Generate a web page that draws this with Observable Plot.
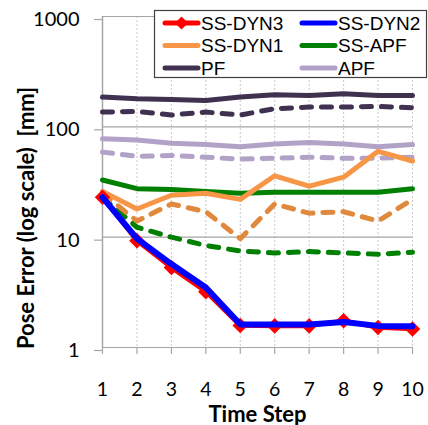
<!DOCTYPE html>
<html>
<head>
<meta charset="utf-8">
<script src="https://cdn.jsdelivr.net/npm/d3@7"></script>
<script src="https://cdn.jsdelivr.net/npm/@observablehq/plot@0.6"></script>
<style>
  html, body { margin: 0; padding: 0; background: #fff; }
  #chart { position: relative; width: 428px; height: 425px; }
</style>
</head>
<body>
<div id="chart"></div>
<script>
// ---- data ----
const steps = [1, 2, 3, 4, 5, 6, 7, 8, 9, 10];
const yTicks = [1, 10, 100, 1000];
const pf       = [186, 180, 177, 173, 186, 195, 192, 199, 192, 192];
const pfDash   = [136, 138, 128, 136, 128, 146, 151, 151, 153, 149];
const apf      = [78, 76, 71, 69, 66, 70, 72, 70, 66, 69];
const apfDash  = [59, 54, 55, 53, 51, 52, 53, 52, 52, 53];
const ssApf    = [33, 27.5, 27, 26, 25, 25.5, 25.5, 25.5, 25.5, 27.5];
const ssApfDash= [23, 12.3, 10, 8.4, 7.5, 7.2, 7.4, 7.2, 7.0, 7.3];
const dyn1     = [26, 18, 24, 25, 22, 36, 29, 35, 60, 49];
const dyn1Dash = [25, 14, 20, 17, 9.7, 20, 16.5, 17, 14, 22];
const dyn3     = [23, 9.3, 5.3, 3.2, 1.58, 1.57, 1.57, 1.75, 1.52, 1.47];
const dyn2     = [23, 9.7, 5.7, 3.5, 1.62, 1.62, 1.62, 1.70, 1.57, 1.56];
const legendNames = ["SS-DYN3", "SS-DYN2", "SS-DYN1", "SS-APF", "PF", "APF"];

// ---- styles ----
const C = {
  dyn3: "#ff0000", dyn2: "#0000ff", dyn1: "#f79646", dyn1Dash: "#e0883c",
  ssApf: "#008000", pf: "#403151", apf: "#b3a2c7"
};
const rows = arr => steps.map((t, i) => ({t, v: arr[i]}));
const solid = (arr, color, w = 5) => Plot.line(rows(arr), {x: "t", y: "v", stroke: color, strokeWidth: w, strokeLinejoin: "round"});
const dashed = (arr, color, w = 5) => Plot.line(rows(arr), {x: "t", y: "v", stroke: color, strokeWidth: w, strokeDasharray: "10,10", strokeLinecap: "round", strokeLinejoin: "round"});

const grid = "#a6a6a6";
const plot = Plot.plot({
  width: 428,
  height: 425,
  marginLeft: 102,
  marginRight: 16,
  marginTop: 16,
  marginBottom: 78,
  style: {fontFamily: "Lato", fontSize: "20px", color: "#000", background: "#fff", overflow: "visible"},
  x: {type: "linear", domain: [1, 10], label: null},
  y: {type: "log", domain: [1, 1000], label: null},
  marks: [
    Plot.ruleX(steps.slice(1), {stroke: "#c8c8c8", strokeDasharray: "2,2", strokeWidth: 1}),
    Plot.ruleY(yTicks, {stroke: grid, strokeWidth: 1.2}),
    Plot.ruleX([1], {stroke: grid, strokeWidth: 1.5}),
    Plot.axisX({ticks: steps, tickSize: 7, tickPadding: 28, tickFormat: d => d, stroke: grid, strokeWidth: 1.2, fill: "#000", fontSize: 19.5, label: null}),
    Plot.axisY({ticks: yTicks, tickSize: 8, tickPadding: 15, tickFormat: d => String(d), stroke: grid, strokeWidth: 1.2, fill: "#000", dy: 3, label: null}),
    dashed(pfDash, C.pf),
    solid(pf, C.pf),
    dashed(apfDash, C.apf),
    solid(apf, C.apf),
    dashed(ssApfDash, C.ssApf),
    dashed(dyn1Dash, C.dyn1Dash),
    solid(ssApf, C.ssApf),
    solid(dyn1, C.dyn1),
    solid(dyn3, C.dyn3, 4.5),
    Plot.dot(rows(dyn3), {x: "t", y: "v", symbol: "diamond2", r: 7, fill: C.dyn3, stroke: "none"}),
    solid(dyn2, C.dyn2, 6),
    Plot.text(["Time Step"], {frameAnchor: "bottom", dy: 67, lineAnchor: "middle", fontWeight: "bold", fontSize: 22, fill: "#000"}),
    Plot.text(["Pose Error (log scale)  [mm]"], {frameAnchor: "left", dx: -76, dy: 36, rotate: -90, textAnchor: "middle", lineAnchor: "middle", fontWeight: "bold", fontSize: 22, fill: "#000"})
  ]
});
document.getElementById("chart").appendChild(plot);

// ---- legend (overlaid on the plot frame, as in the reference) ----
const svg = d3.select(plot);
const lg = svg.append("g")
  .attr("font-family", "'Liberation Sans', Arial, sans-serif").attr("font-size", 19)
  .attr("text-anchor", "start")
  .style("font-family", "'Liberation Sans', Arial, sans-serif").style("font-size", "19px");
lg.append("rect").attr("x", 154.5).attr("y", 10.5).attr("width", 272).attr("height", 67)
  .attr("fill", "#ffffff").attr("stroke", "#404040").attr("stroke-width", 1.2)
  .style("fill", "#ffffff").style("stroke", "#404040");
const legendColors = [C.dyn3, C.dyn2, C.dyn1, C.ssApf, C.pf, C.apf];
legendNames.forEach((name, i) => {
  const col = i % 2, row = Math.floor(i / 2);
  const x0 = col === 0 ? 165 : 302;
  const y = 23 + row * 22.5;
  lg.append("line").attr("x1", x0).attr("x2", x0 + 33).attr("y1", y).attr("y2", y)
    .attr("stroke", legendColors[i]).attr("stroke-width", 5).attr("stroke-linecap", "round");
  if (i === 0) {
    lg.append("path").attr("d", d3.symbol(d3.symbolDiamond2, 110)()).attr("transform", `translate(${x0 + 16.5},${y})`).attr("fill", C.dyn3);
  }
  lg.append("text").attr("x", x0 + 36).attr("y", y).attr("dy", "0.36em").attr("text-anchor", "start").attr("fill", "#000").text(name);
});
</script>
</body>
</html>
